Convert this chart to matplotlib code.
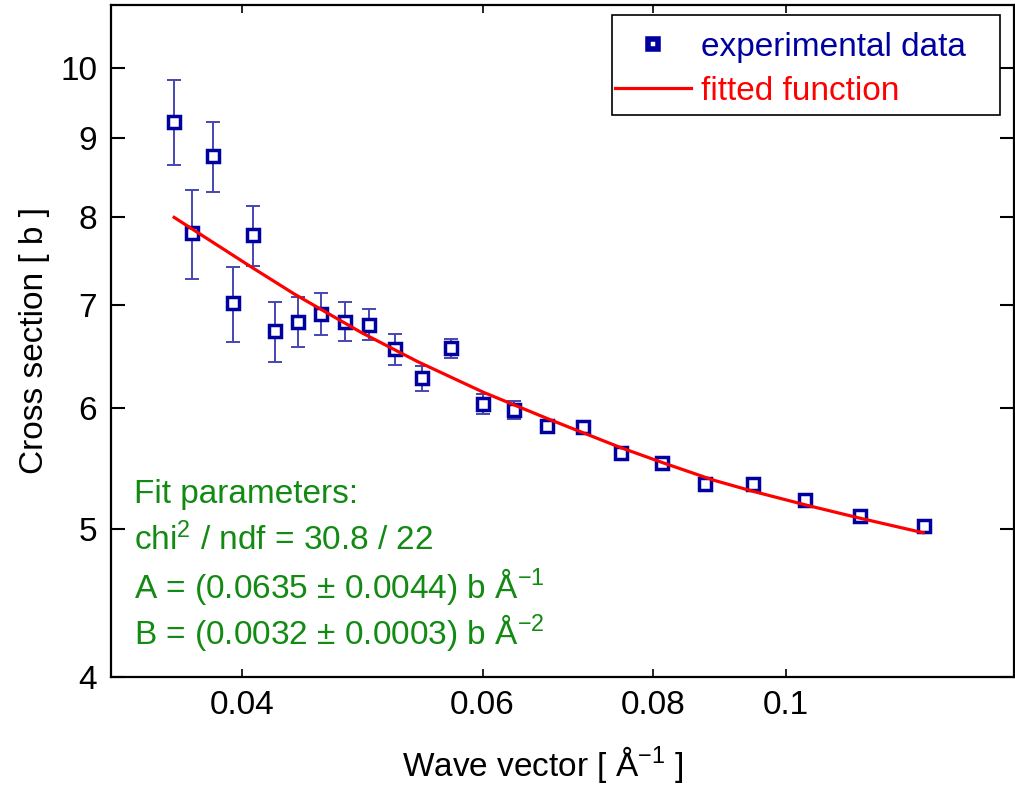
import numpy as np
import matplotlib
matplotlib.use("Agg")
from matplotlib import pyplot as plt
from matplotlib.lines import Line2D
from matplotlib.patches import Rectangle
from matplotlib.ticker import FixedLocator, FixedFormatter, NullLocator

### FONTS #####################################################################

plt.rcParams['font.family'] = ['Liberation Sans', 'DejaVu Sans']
plt.rcParams['mathtext.fontset'] = 'custom'
plt.rcParams['mathtext.rm'] = 'Liberation Sans'
plt.rcParams['mathtext.it'] = 'Liberation Sans:italic'
plt.rcParams['mathtext.bf'] = 'Liberation Sans:bold'

### DATA ######################################################################

# wave vector [1/A]
k = [0.0357, 0.0368, 0.0381, 0.0394, 0.0408, 0.0423, 0.0440, 0.0457,
     0.0476, 0.0496, 0.0518, 0.0542, 0.0569, 0.0600, 0.0633, 0.0669,
     0.0710, 0.0758, 0.0811, 0.0873, 0.0946, 0.1033, 0.1133, 0.1262]
# cross section [b]
sigma = [9.23, 7.80, 8.76, 7.02, 7.78, 6.73, 6.83, 6.91,
         6.83, 6.80, 6.55, 6.27, 6.56, 6.03, 5.98, 5.84,
         5.83, 5.60, 5.52, 5.35, 5.35, 5.22, 5.10, 5.02]
sigma_err = [0.59, 0.52, 0.46, 0.40, 0.35, 0.30, 0.26, 0.22,
             0.20, 0.16, 0.15, 0.12, 0.09, 0.09, 0.08, 0.05,
             0.05, 0.03, 0.03, 0.03, 0.03, 0.03, 0.03, 0.03]

# fitted curve
fit_k = [0.0357, 0.0406, 0.0437, 0.0489, 0.0538, 0.0601, 0.0673,
         0.0757, 0.0814, 0.0885, 0.0946, 0.1036, 0.1133, 0.1260]
fit_sigma = [7.99, 7.42, 7.12, 6.72, 6.43, 6.14, 5.89,
             5.65, 5.52, 5.38, 5.29, 5.18, 5.08, 4.97]

xticks = [0.04, 0.06, 0.08, 0.1]
xtick_labels = ['0.04', '0.06', '0.08', '0.1']
yticks = [4, 5, 6, 7, 8, 9, 10]
ytick_labels = ['4', '5', '6', '7', '8', '9', '10']

fit_text = ['Fit parameters:',
            r'chi$^{2}$ / ndf = 30.8 / 22',
            r'A = (0.0635 ± 0.0044) b Å$^{-1}$',
            r'B = (0.0032 ± 0.0003) b Å$^{-2}$']

### COLOURS ###################################################################

blue = '#0000a0'
errblue = '#4646b4'
red = '#ff0000'
green = '#138a13'
fs = 24

### PLOT ######################################################################

fig = plt.figure(figsize=(10.15, 7.86), dpi=100)
ax = fig.add_axes([111/1015, 1 - 677/786, 903/1015, 672/786])

ax.errorbar(k, sigma, yerr=sigma_err, fmt='none', ecolor=errblue,
            elinewidth=1.4, capsize=5, capthick=1.4, zorder=2)
ax.plot(k, sigma, 's', color=blue, markerfacecolor='white',
        markersize=8.2, markeredgewidth=2.5, zorder=3)
ax.plot(fit_k, fit_sigma, '-', color=red, linewidth=2.3, zorder=4)

ax.set_xscale('log')
ax.set_yscale('log')
ax.set_xlim(0.0321, 0.1468)
ax.set_ylim(4, 11)

ax.xaxis.set_major_locator(FixedLocator(xticks))
ax.xaxis.set_major_formatter(FixedFormatter(xtick_labels))
ax.xaxis.set_minor_locator(NullLocator())
ax.yaxis.set_major_locator(FixedLocator(yticks))
ax.yaxis.set_major_formatter(FixedFormatter(ytick_labels))
ax.yaxis.set_minor_locator(NullLocator())

ax.tick_params(axis='x', which='major', direction='in', top=True,
               length=6, width=1.2, labelsize=fs, pad=9)
ax.tick_params(axis='y', which='major', direction='in', right=True,
               length=10, width=1.5, labelsize=fs, pad=10)
for s in ax.spines.values():
    s.set_linewidth(1.6)

ax.set_xlabel(r'Wave vector [ Å$^{-1}$ ]', fontsize=fs)
ax.xaxis.set_label_coords(0.478, -0.10)
ax.set_ylabel('Cross section [ b ]', fontsize=fs)
ax.yaxis.set_label_coords(-0.067, 0.5)

# fit parameter block
ys = [0.259, 0.189, 0.1176, 0.049]
for line, yy in zip(fit_text, ys):
    ax.text(0.0255, yy, line, transform=ax.transAxes, color=green,
            fontsize=fs, va='baseline', ha='left')

# legend: contents without frame, box drawn separately
handles = [Line2D([], [], linestyle='none', marker='s', color=blue,
                  markerfacecolor='white', markersize=7.6, markeredgewidth=4),
           Line2D([], [], color=red, linewidth=2.3)]
leg = ax.legend(handles, ['experimental data', 'fitted function'],
                loc='upper left', bbox_to_anchor=((615-111)/903, (677-32)/672),
                borderaxespad=0, borderpad=0, fontsize=fs, frameon=False,
                handlelength=2.27, handletextpad=0.3, labelspacing=0.38)
for txt, c in zip(leg.get_texts(), [blue, red]):
    txt.set_color(c)
ax.add_patch(Rectangle(((612-111)/903, (677-115)/672), 388/903, 100/672,
                       transform=ax.transAxes, fill=False, edgecolor='black',
                       linewidth=1.2, zorder=5))

fig.savefig('out.png', dpi=100)
